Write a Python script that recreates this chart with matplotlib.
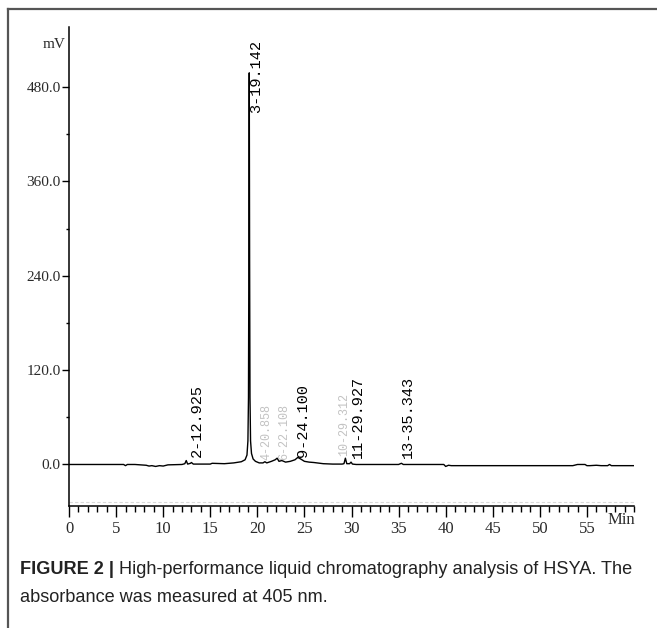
import numpy as np
import matplotlib
matplotlib.use("Agg")
import matplotlib.pyplot as plt
from matplotlib.lines import Line2D

# retention time (min) and detector signal (mV)
time_min = [0, 3, 5.8, 6.0, 6.2, 7, 8.2, 8.5, 8.8, 9.2, 9.6, 10.0, 10.5, 12.0, 12.3,
            12.45, 12.6, 12.9, 13.0, 13.2, 14, 15, 15.2, 16.5, 17.5, 18.3, 18.7, 18.9,
            19.0, 19.06, 19.1, 19.142, 19.18, 19.22, 19.28, 19.38, 19.55, 19.8, 20.2,
            20.6, 20.8, 21.0, 21.5, 21.9, 22.1, 22.3, 22.6, 23.0, 23.5, 24.0, 24.3, 24.6,
            25.0, 25.5, 26.0, 27.0, 28.0, 29.0, 29.2, 29.35, 29.5, 29.8, 29.95, 30.1,
            30.5, 32, 35.0, 35.3, 35.5, 38, 39.8, 40.0, 40.3, 40.6, 45, 50, 53.5, 54.0,
            54.8, 55.0, 55.3, 56.0, 56.5, 57.2, 57.4, 57.6, 58, 60]
signal_mv = [0, 0, 0, -1.5, 0, 0, -1, -2, -1.5, -2.5, -1.5, -2, -0.5, 0, 1,
             5, 0.5, 1.5, 2.5, 0.5, 0.5, 0.5, 1.5, 1, 2, 3.5, 6, 12,
             30, 85, 260, 498, 260, 85, 30, 14, 7, 4, 2,
             2, 3.5, 2, 4, 6, 8, 4, 5, 3, 4, 6, 9, 7,
             4, 3, 2.5, 1, 0.5, 0.5, 1, 8, 1, 1, 3, 0.5,
             0, 0, 0, 1.5, 0, 0, 0, -2.5, -1, -1.5, -1.5, -1.5, -1.5, 0,
             0, -1.5, -1.5, -1, -1.5, -1.5, 0, -1.5, -1.5, -1.5]

# peak labels
peak_names = ["2-12.925", "3-19.142", "4-20.858", "6-22.108", "9-24.100",
              "10-29.312", "11-29.927", "13-35.343"]
peak_rt = [12.925, 19.142, 20.858, 22.108, 24.100, 29.312, 29.927, 35.343]
peak_label_y = [9, 447, 6, 6, 9, 11, 8, 8]
peak_faint = [False, False, True, True, False, True, False, False]

yticks = [0, 120, 240, 360, 480]
ytick_labels = ["0.0", "120.0", "240.0", "360.0", "480.0"]
xticks = list(range(0, 60, 5))

caption_bold = "FIGURE 2 | "
caption_1 = "High-performance liquid chromatography analysis of HSYA. The"
caption_2 = "absorbance was measured at 405 nm."

tick_font = "Liberation Serif"
label_font = "Liberation Mono"
ink = "#2a2a2a"

fig = plt.figure(figsize=(6.57, 6.28), dpi=100)
ax = fig.add_axes([69 / 657, 1 - 506 / 628, (634 - 69) / 657, (506 - 27) / 628])

ax.plot(time_min, signal_mv, color="black", lw=1.0)
ax.axhline(-48, color="#d9d9d9", lw=0.8, ls=(0, (3, 2)))

ax.set_xlim(0, 60)
ax.set_ylim(-52.8, 556.3)

for sp in ["top", "right"]:
    ax.spines[sp].set_visible(False)
for sp in ["left", "bottom"]:
    ax.spines[sp].set_linewidth(1.1)
    ax.spines[sp].set_color("black")

ax.set_yticks(yticks)
ax.set_yticklabels(ytick_labels, fontfamily=tick_font, fontsize=11, color=ink)
ax.set_yticks([60, 180, 300, 420], minor=True)
ax.tick_params(axis="y", which="major", length=5, width=1, pad=1, direction="out")
ax.tick_params(axis="y", which="minor", length=2.5, width=1, direction="out")

ax.set_xticks(xticks)
ax.set_xticklabels([str(v) for v in xticks], fontfamily=tick_font, fontsize=12, color=ink)
ax.set_xticks(range(0, 61), minor=True)
ax.tick_params(axis="x", which="major", length=8, width=1, pad=3, direction="out")
ax.tick_params(axis="x", which="minor", length=4.5, width=1, direction="out")

# axis unit labels
ax.text(-0.006, 1.0 - 18 / 479, "mV", transform=ax.transAxes, ha="right", va="center",
        fontfamily=tick_font, fontsize=11, color=ink)
ax.text(58.7, -60, "Min", ha="center", va="top", fontfamily=tick_font, fontsize=12,
        color=ink, clip_on=False)

# peak annotations (faint ones are the half-printed labels in the original)
label_dx = [0.7, 0.7, 0.1, 0.7, 0.7, -0.1, 0.8, 0.7]
for name, rt, ly, faint, dx in zip(peak_names, peak_rt, peak_label_y, peak_faint, label_dx):
    ax.text(rt + dx, ly, name, rotation=90, ha="center", va="bottom",
            fontfamily=label_font, fontsize=8.5 if faint else 11,
            color="#9a9a9a" if faint else "black", alpha=0.6 if faint else 1.0)

# outer frame (top and left edges visible)
fig.add_artist(Line2D([8 / 657, 1.0], [1 - 9 / 628, 1 - 9 / 628], color="#555555", lw=1.6))
fig.add_artist(Line2D([8 / 657, 8 / 657], [0.0, 1 - 9 / 628], color="#555555", lw=1.6))

# caption
cx = 20 / 657
t_bold = fig.text(cx, 1 - 569 / 628, caption_bold, fontfamily="Liberation Sans",
                  fontweight="bold", fontsize=13.1, va="center", ha="left", color="#222222")
fig.canvas.draw()
bb = t_bold.get_window_extent()
fig.text(bb.x1 / fig.bbox.width, 1 - 569 / 628, caption_1, fontfamily="Liberation Sans",
         fontsize=13.1, va="center", ha="left", color="#222222")
fig.text(cx, 1 - 597 / 628, caption_2, fontfamily="Liberation Sans",
         fontsize=13.1, va="center", ha="left", color="#222222")

plt.savefig("out.png", dpi=100)
